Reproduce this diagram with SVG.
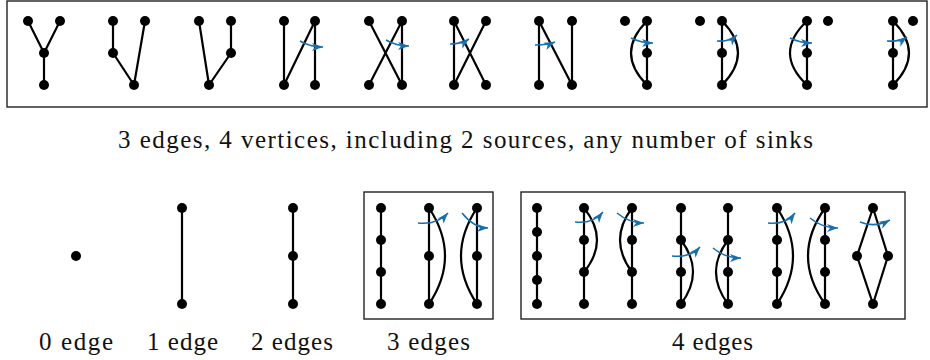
<svg xmlns="http://www.w3.org/2000/svg" width="930" height="360" viewBox="0 0 930 360">
<style>
.v{fill:#000}
.e{stroke:#000;stroke-width:2.2;fill:none;stroke-linecap:round}
.r{stroke:#1670ad;stroke-width:1.6;fill:none;marker-end:url(#ah)}
.box{fill:none;stroke:#222;stroke-width:1.4}
</style>
<defs>
<marker id="ah" markerUnits="userSpaceOnUse" markerWidth="12" markerHeight="10" viewBox="0 0 12 10" refX="11" refY="5" orient="auto">
<path d="M0,1 L11,5 L0,9 L3,5 Z" fill="#1670ad"/>
</marker>
</defs>
<rect width="930" height="360" fill="#fff"/>
<g id="frames">
<rect class="box" x="7" y="1" width="920" height="106"/>
<rect class="box" x="364" y="192" width="129" height="127"/>
<rect class="box" x="521" y="192" width="384" height="127"/>
</g>
<g id="connectors">
<path class="e" d="M28,21L44,53M60,21L44,53M44,53L44,85"/>
<path class="e" d="M113,21L113,53M113,53L134,85M145,21L134,85"/>
<path class="e" d="M199,21L209,85M231,21L231,53M231,53L209,85"/>
<path class="e" d="M284,21L284,85M315,21L284,85M315,21L315,85"/>
<path class="e" d="M369,21L402,85M402,21L369,85M402,21L402,85"/>
<path class="e" d="M454,21L454,85M454,21L486,85M486,21L454,85"/>
<path class="e" d="M539,21L539,85M539,21L572,85M572,21L572,85"/>
<path class="e" d="M647,21L647,85M647,21Q615,53 647,85"/>
<path class="e" d="M722,21L722,85M722,21Q754,53 722,85"/>
<path class="e" d="M807,21L807,85M807,21Q773,53 807,85"/>
<path class="e" d="M893,21L893,85M893,21Q925,53 893,85"/>
<path class="e" d="M182,208L182,304"/>
<path class="e" d="M293,208L293,304"/>
<path class="e" d="M381,208L381,304"/>
<path class="e" d="M429,208L429,304M429,208Q461,256 429,304"/>
<path class="e" d="M477,208L477,304M477,208Q445,256 477,304"/>
<path class="e" d="M537,208L537,304"/>
<path class="e" d="M584,208L584,304M584,208Q610,240 584,272"/>
<path class="e" d="M632,208L632,304M632,208Q608,240 632,272"/>
<path class="e" d="M681,208L681,304M681,240Q705,272 681,304"/>
<path class="e" d="M728,208L728,304M728,240Q704,272 728,304"/>
<path class="e" d="M777,208L777,304M777,208Q809,256 777,304"/>
<path class="e" d="M825,208L825,304M825,208Q791,256 825,304"/>
<path class="e" d="M873,208L857,256L873,304L888,256Z"/>
</g>
<g id="rotations">
<path class="r" d="M300,41Q310,47 323,47"/>
<path class="r" d="M386,40Q396,46 409,46"/>
<path class="r" d="M450,44Q462,44 469,39"/>
<path class="r" d="M535,45Q548,45 555,42"/>
<path class="r" d="M631,38Q641,43 653,43"/>
<path class="r" d="M717,41Q730,42 737,35"/>
<path class="r" d="M790,38Q800,43 812,43"/>
<path class="r" d="M887,41Q900,42 907,37"/>
<path class="r" d="M418,223Q437,225 448,213"/>
<path class="r" d="M462,213Q474,228 488,228"/>
<path class="r" d="M575,222Q593,224 603,212"/>
<path class="r" d="M617,213Q629,223 644,223"/>
<path class="r" d="M672,256Q690,258 700,247"/>
<path class="r" d="M713,248Q725,258 741,258"/>
<path class="r" d="M768,223Q786,225 795,213"/>
<path class="r" d="M810,218Q822,228 838,228"/>
<path class="r" d="M860,222Q875,228 890,220"/>
</g>
<g id="g1" class="v"><circle cx="28" cy="21" r="5"/><circle cx="60" cy="21" r="5"/><circle cx="44" cy="53" r="5"/><circle cx="44" cy="85" r="5"/></g>
<g id="g2" class="v"><circle cx="113" cy="21" r="5"/><circle cx="145" cy="21" r="5"/><circle cx="113" cy="53" r="5"/><circle cx="134" cy="85" r="5"/></g>
<g id="g3" class="v"><circle cx="199" cy="21" r="5"/><circle cx="231" cy="21" r="5"/><circle cx="231" cy="53" r="5"/><circle cx="209" cy="85" r="5"/></g>
<g id="g4" class="v"><circle cx="284" cy="21" r="5"/><circle cx="315" cy="21" r="5"/><circle cx="284" cy="85" r="5"/><circle cx="315" cy="85" r="5"/></g>
<g id="g5" class="v"><circle cx="369" cy="21" r="5"/><circle cx="402" cy="21" r="5"/><circle cx="369" cy="85" r="5"/><circle cx="402" cy="85" r="5"/></g>
<g id="g6" class="v"><circle cx="454" cy="21" r="5"/><circle cx="486" cy="21" r="5"/><circle cx="454" cy="85" r="5"/><circle cx="486" cy="85" r="5"/></g>
<g id="g7" class="v"><circle cx="539" cy="21" r="5"/><circle cx="572" cy="21" r="5"/><circle cx="539" cy="85" r="5"/><circle cx="572" cy="85" r="5"/></g>
<g id="g8" class="v"><circle cx="625" cy="21" r="5"/><circle cx="647" cy="21" r="5"/><circle cx="647" cy="53" r="5"/><circle cx="647" cy="85" r="5"/></g>
<g id="g9" class="v"><circle cx="700" cy="21" r="5"/><circle cx="722" cy="21" r="5"/><circle cx="722" cy="53" r="5"/><circle cx="722" cy="85" r="5"/></g>
<g id="g10" class="v"><circle cx="828" cy="21" r="5"/><circle cx="807" cy="21" r="5"/><circle cx="807" cy="53" r="5"/><circle cx="807" cy="85" r="5"/></g>
<g id="g11" class="v"><circle cx="913" cy="21" r="5"/><circle cx="893" cy="21" r="5"/><circle cx="893" cy="53" r="5"/><circle cx="893" cy="85" r="5"/></g>
<g id="b0" class="v"><circle cx="76" cy="256" r="5"/></g>
<g id="b1" class="v"><circle cx="182" cy="208" r="5"/><circle cx="182" cy="304" r="5"/></g>
<g id="b2" class="v"><circle cx="293" cy="208" r="5"/><circle cx="293" cy="256" r="5"/><circle cx="293" cy="304" r="5"/></g>
<g id="c1" class="v"><circle cx="381" cy="208" r="5"/><circle cx="381" cy="240" r="5"/><circle cx="381" cy="272" r="5"/><circle cx="381" cy="304" r="5"/></g>
<g id="c2" class="v"><circle cx="429" cy="208" r="5"/><circle cx="429" cy="256" r="5"/><circle cx="429" cy="304" r="5"/></g>
<g id="c3" class="v"><circle cx="477" cy="208" r="5"/><circle cx="477" cy="256" r="5"/><circle cx="477" cy="304" r="5"/></g>
<g id="d1" class="v"><circle cx="537" cy="208" r="5"/><circle cx="537" cy="232" r="5"/><circle cx="537" cy="256" r="5"/><circle cx="537" cy="280" r="5"/><circle cx="537" cy="304" r="5"/></g>
<g id="d2" class="v"><circle cx="584" cy="208" r="5"/><circle cx="584" cy="240" r="5"/><circle cx="584" cy="272" r="5"/><circle cx="584" cy="304" r="5"/></g>
<g id="d3" class="v"><circle cx="632" cy="208" r="5"/><circle cx="632" cy="240" r="5"/><circle cx="632" cy="272" r="5"/><circle cx="632" cy="304" r="5"/></g>
<g id="d4" class="v"><circle cx="681" cy="208" r="5"/><circle cx="681" cy="240" r="5"/><circle cx="681" cy="272" r="5"/><circle cx="681" cy="304" r="5"/></g>
<g id="d5" class="v"><circle cx="728" cy="208" r="5"/><circle cx="728" cy="240" r="5"/><circle cx="728" cy="272" r="5"/><circle cx="728" cy="304" r="5"/></g>
<g id="d6" class="v"><circle cx="777" cy="208" r="5"/><circle cx="777" cy="240" r="5"/><circle cx="777" cy="272" r="5"/><circle cx="777" cy="304" r="5"/></g>
<g id="d7" class="v"><circle cx="825" cy="208" r="5"/><circle cx="825" cy="240" r="5"/><circle cx="825" cy="272" r="5"/><circle cx="825" cy="304" r="5"/></g>
<g id="d8" class="v"><circle cx="873" cy="208" r="5"/><circle cx="857" cy="256" r="5"/><circle cx="888" cy="256" r="5"/><circle cx="873" cy="304" r="5"/></g>
<g id="labels" font-size="25" fill="#111">
<text font-family="'Liberation Serif', serif" x="118" y="148" textLength="695" lengthAdjust="spacing">3 edges, 4 vertices, including 2 sources, any number of sinks</text>
<text font-family="'Liberation Serif', serif" x="39" y="350" textLength="74" lengthAdjust="spacing">0 edge</text>
<text font-family="'Liberation Serif', serif" x="147" y="350" textLength="71" lengthAdjust="spacing">1 edge</text>
<text font-family="'Liberation Serif', serif" x="251" y="350" textLength="82" lengthAdjust="spacing">2 edges</text>
<text font-family="'Liberation Serif', serif" x="387" y="350" textLength="83" lengthAdjust="spacing">3 edges</text>
<text font-family="'Liberation Serif', serif" x="672" y="350" textLength="81" lengthAdjust="spacing">4 edges</text>
</g>
</svg>
